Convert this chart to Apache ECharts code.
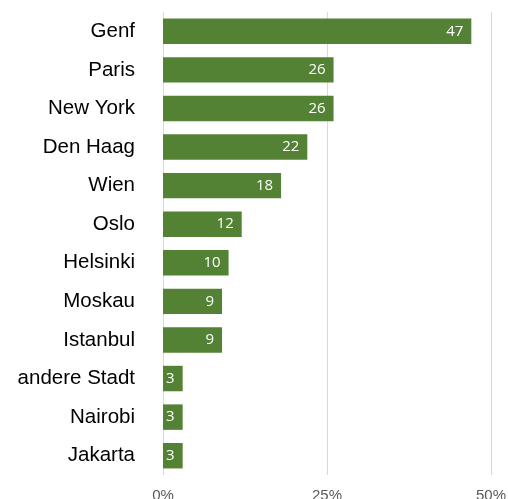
<!DOCTYPE html>
<html>
<head>
<meta charset="utf-8">
<script src="https://cdn.jsdelivr.net/npm/echarts@6/dist/echarts.min.js"></script>
<style>html,body{margin:0;padding:0;background:#fff;}#c{width:508px;height:499px;}</style>
</head>
<body>
<div id="c"></div>
<script>
const categories = ["Genf","Paris","New York","Den Haag","Wien","Oslo","Helsinki","Moskau","Istanbul","andere Stadt","Nairobi","Jakarta"];
const values = [47,26,26,22,18,12,10,9,9,3,3,3];
const xTicks = [0,25,50];

const chart = echarts.init(document.getElementById('c'), null, {renderer:'canvas'});
chart.setOption({
  animation:false,
  grid:{left:163,right:17,top:12,bottom:24,containLabel:false,outerBoundsMode:'none'},
  xAxis:{
    type:'value',min:xTicks[0],max:xTicks[xTicks.length-1],interval:xTicks[1]-xTicks[0],
    axisLine:{show:false},axisTick:{show:false},
    splitLine:{show:true,lineStyle:{color:'#d9d9d9',width:1}},
    axisLabel:{formatter:v=>v+'%',color:'#595959',fontSize:15,fontFamily:'Liberation Sans, Arial',margin:13}
  },
  yAxis:{
    type:'category',data:categories,inverse:true,
    axisLine:{show:false},axisTick:{show:false},
    axisLabel:{color:'#000',fontSize:20.5,fontFamily:'Liberation Sans, Arial',margin:28,padding:[2,0,0,0]}
  },
  series:[{
    type:'bar',data:values,barWidth:'66%',
    itemStyle:{color:'#548235'},
    label:{show:true,position:'insideRight',color:'#fff',fontSize:15,fontFamily:'Open Sans, Lato',distance:8,padding:[2,0,0,0]}
  }]
});
</script>
</body>
</html>
